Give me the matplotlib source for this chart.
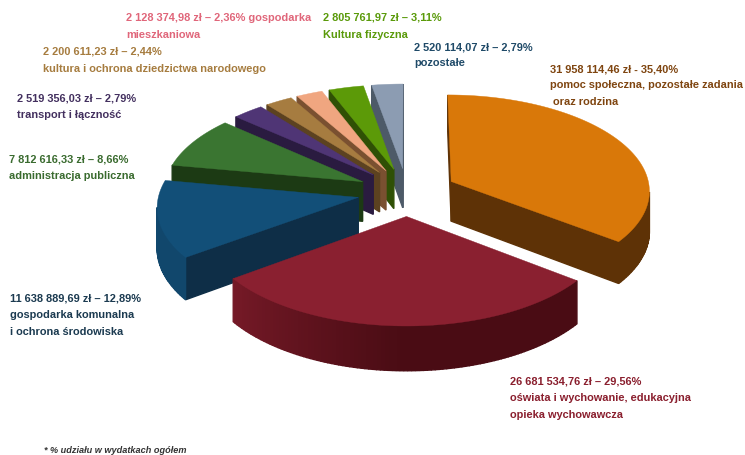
import numpy as np
import matplotlib
matplotlib.use("Agg")
import matplotlib.pyplot as plt
from matplotlib.colors import to_rgb

plt.rcParams["font.family"] = ["Liberation Sans Narrow", "Liberation Sans"]

# Budget shares, in drawing order around the pie (clockwise from the top)
shares = [35.40, 29.56, 12.89, 8.66, 2.79, 2.44, 2.36, 3.11, 2.79]
amounts = ["31 958 114,46", "26 681 534,76", "11 638 889,69", "7 812 616,33",
           "2 519 356,03", "2 200 611,23", "2 128 374,98", "2 805 761,97",
           "2 520 114,07"]
top_colors = ["#D97809", "#8A2030", "#124F78", "#3A7531", "#4F3575",
              "#A67C40", "#F0A680", "#5C9A08", "#8C9CB2"]
wall_colors = ["#5E3206", "#4A0C14", "#0E2E47", "#1C3A14", "#2A1B40",
               "#5C4220", "#7A5030", "#2F5005", "#4D5A68"]
text_colors = ["#7F4510", "#8A1F2E", "#1B3A50", "#3A6B2F", "#43305F",
               "#A67C3F", "#E0667A", "#5A9A0A", "#1F4A68"]
# How far the rounded wall leans towards the dark colour, start and end of the arc
arc_shade_start = [1.0, 1.0, 0.25, 1.0, 1.0, 1.0, 1.0, 1.0, 1.0]
arc_shade_end = [1.0, 0.3, 0.1, 1.0, 1.0, 1.0, 1.0, 1.0, 1.0]

# Parts of the label that follow the amount, per slice
suffixes = [" gospodarka" if i == 6 else "" for i in range(9)]
separators = ["-" if i == 0 else "–" for i in range(9)]
extra_lines = [
    ["pomoc społeczna, pozostałe zadania", " oraz rodzina"],
    ["oświata i wychowanie, edukacyjna", "opieka wychowawcza"],
    ["gospodarka komunalna", "i ochrona środowiska"],
    ["administracja publiczna"],
    ["transport i łączność"],
    ["kultura i ochrona dziedzictwa narodowego"],
    ["mieszkaniowa"],
    ["Kultura fizyczna"],
    ["pozostałe"],
]
label_x = [550, 510, 10, 9, 17, 43, 126, 323, 414]
label_y = [69, 382, 299, 160, 99, 52, 18, 18, 47]
line_step = 16.5

# Projection of the tilted pie onto the page
CX, CY = 407, 193
RX, RY = 199, 95.7
PERSP = 0.0857
EXPLODE = 0.25
DEPTH = 40


def project(u, v):
    s = 1 / (1 + PERSP * v)
    return CX + RX * u * s, CY - RY * v * s, DEPTH * s


def mix(a, b, t):
    a, b = np.array(to_rgb(a)), np.array(to_rgb(b))
    return tuple(a + (b - a) * t)


fig = plt.figure(figsize=(7.45, 4.56), dpi=100)
ax = fig.add_axes([0, 0, 1, 1])
ax.set_xlim(0, 745)
ax.set_ylim(456, 0)
ax.axis("off")

edges = 90 - np.cumsum([0] + shares) * 3.6
order = [8, 7, 6, 5, 4, 3, 0, 2, 1]

for i in order:
    a0, a1 = edges[i], edges[i + 1]
    mid = np.radians((a0 + a1) / 2)
    du, dv = EXPLODE * np.cos(mid), EXPLODE * np.sin(mid)
    arc = np.radians(np.linspace(a0, a1, max(int(a0 - a1), 4) + 1))
    us = np.concatenate([[du], du + np.cos(arc)])
    vs = np.concatenate([[dv], dv + np.sin(arc)])
    xs, ys, hs = project(us, vs)

    # Walls: only the faces turned towards the viewer get drawn
    n = len(xs)
    for j in range(n):
        k = (j + 1) % n
        if xs[k] >= xs[j]:
            continue
        if j == 0 or k == 0:
            colour = wall_colors[i]
        else:
            p = max(0, 2 * j / n - 1)
            shade = arc_shade_start[i] + (arc_shade_end[i] - arc_shade_start[i]) * p
            colour = mix(top_colors[i], wall_colors[i], shade)
        ax.fill([xs[j], xs[k], xs[k], xs[j]],
                [ys[j], ys[k], ys[k] + hs[k], ys[j] + hs[j]],
                color=colour, lw=1.0, zorder=1)
    ax.fill(xs, ys, color=top_colors[i], lw=0.3, zorder=1)

for i in range(len(shares)):
    pct = f"{shares[i]:.2f}".replace(".", ",")
    head = f"{amounts[i]} zł {separators[i]} {pct}%{suffixes[i]}"
    for n, line in enumerate([head] + extra_lines[i]):
        ax.text(label_x[i], label_y[i] + n * line_step, line, color=text_colors[i],
                fontsize=7.9, fontweight="bold", va="center", ha="left", zorder=3)

ax.text(44, 451, "* % udziału w wydatkach ogółem", color="#333333", fontsize=6.6,
        fontweight="bold", style="italic", va="center", ha="left")

fig.savefig("out.png", dpi=100)
